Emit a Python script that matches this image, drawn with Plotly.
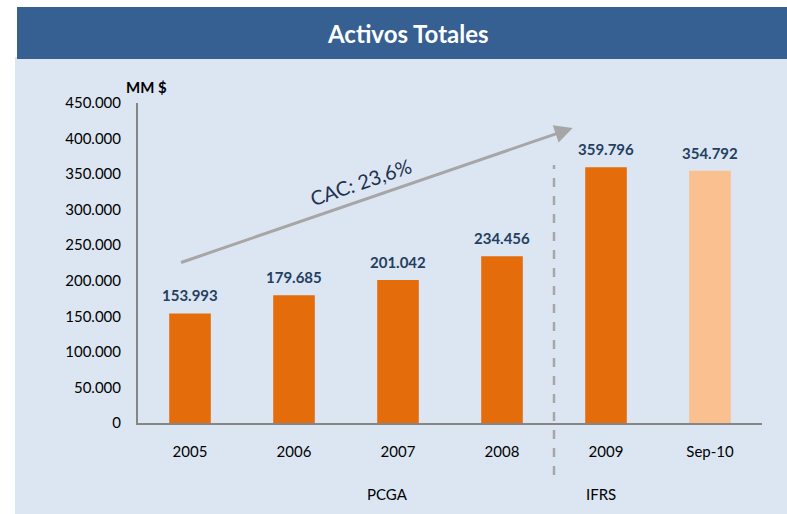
import plotly.graph_objects as go

categories = ["2005", "2006", "2007", "2008", "2009", "Sep-10"]
values = [153993, 179685, 201042, 234456, 359796, 354792]
value_labels = ["153.993", "179.685", "201.042", "234.456", "359.796", "354.792"]
bar_colors = ["#E46C0A", "#E46C0A", "#E46C0A", "#E46C0A", "#E46C0A", "#FAC090"]
tick_vals = [0, 50000, 100000, 150000, 200000, 250000, 300000, 350000, 400000, 450000]
tick_text = ["0", "50.000", "100.000", "150.000", "200.000", "250.000",
             "300.000", "350.000", "400.000", "450.000"]
title_text = "Activos Totales"
cac_text = "CAC: 23,6%"
group_labels = ["PCGA", "IFRS"]

FONT = "Lato"
W, H = 787, 514
L, R, T, B = 138, 25, 103, 91
pw, ph = W - L - R, H - T - B


def px_x(px):
    return (px - L) / pw


def px_y(py):
    return (H - B - py) / ph


fig = go.Figure()
fig.add_trace(go.Bar(
    x=list(range(len(categories))), y=values,
    marker=dict(color=bar_colors, line=dict(width=0)),
    width=0.4, hoverinfo="skip", showlegend=False,
))

shapes = []
shapes.append(dict(type="rect", xref="paper", yref="paper", layer="below",
                   x0=px_x(15), x1=px_x(790), y0=px_y(517), y1=px_y(57),
                   fillcolor="#DCE6F2", line=dict(width=0)))
shapes.append(dict(type="rect", xref="paper", yref="paper", layer="below",
                   x0=px_x(17), x1=px_x(790), y0=px_y(59), y1=px_y(7),
                   fillcolor="#366092", line=dict(width=0)))
shapes.append(dict(type="line", xref="x", yref="paper",
                   x0=3.5, x1=3.5, y0=px_y(475), y1=px_y(165),
                   line=dict(color="#A6A6A6", width=2.5, dash="dash")))

annotations = []


def add_text(text, x, y, size, color, angle=0):
    annotations.append(dict(text=text, xref="paper", yref="paper",
                            x=px_x(x), y=px_y(y), xanchor="center", yanchor="middle",
                            showarrow=False, textangle=angle,
                            font=dict(family=FONT, size=size, color=color)))


add_text("<b>" + title_text + "</b>", 408, 33, 24, "white")
add_text("<b>MM $</b>", 146, 87, 15, "#000000")
for i, (v, lab) in enumerate(zip(values, value_labels)):
    annotations.append(dict(text="<b>" + lab + "</b>", x=i, y=v, xref="x", yref="y",
                            xanchor="center", yanchor="bottom", yshift=7, showarrow=False,
                            font=dict(family=FONT, size=15, color="#243F60")))
annotations.append(dict(x=3.68, y=414800, ax=-0.1, ay=225000,
                        xref="x", yref="y", axref="x", ayref="y",
                        text="", showarrow=True, arrowhead=2, arrowsize=1.2,
                        arrowwidth=3, arrowcolor="#A6A6A6"))
add_text(cac_text, 360, 182, 20, "#1F3050", angle=-19)
add_text(group_labels[0], 387, 494, 15, "#000000")
add_text(group_labels[1], 601, 494, 15, "#000000")

fig.update_layout(
    width=W, height=H,
    margin=dict(l=L, r=R, t=T, b=B, pad=0),
    paper_bgcolor="white", plot_bgcolor="rgba(0,0,0,0)",
    shapes=shapes, annotations=annotations,
    xaxis=dict(showline=True, linecolor="#868686", linewidth=2,
               showgrid=False, zeroline=False, ticks="", ticklabelstandoff=14,
               tickmode="array", tickvals=list(range(len(categories))), ticktext=categories,
               tickfont=dict(family=FONT, size=15, color="#000000"),
               range=[-0.5, 5.5], fixedrange=True),
    yaxis=dict(range=[0, 450000], showline=True, linecolor="#868686", linewidth=2,
               showgrid=False, zeroline=False, ticks="",
               tickvals=tick_vals, ticktext=tick_text, ticklabelstandoff=12,
               tickfont=dict(family=FONT, size=15, color="#000000"), fixedrange=True),
)

fig.write_html("out.html", config={"displayModeBar": False},
               post_script="document.body.style.margin='0';")
